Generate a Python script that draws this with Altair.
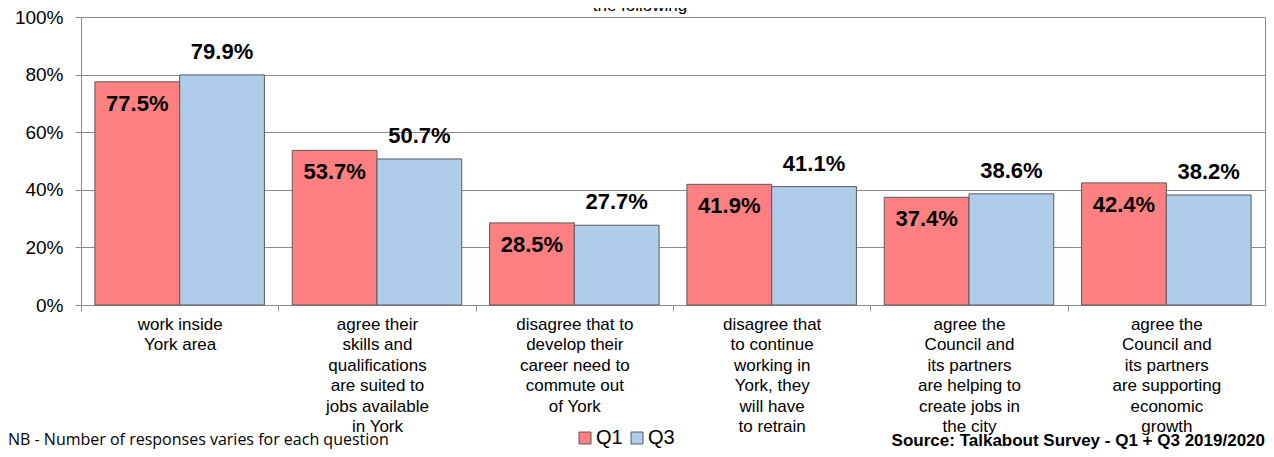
import altair as alt
import pandas as pd

categories = [
    "work inside|York area",
    "agree their|skills and|qualifications|are suited to|jobs available|in York",
    "disagree that to|develop their|career need to|commute out|of York",
    "disagree that|to continue|working in|York, they|will have|to retrain",
    "agree the|Council and|its partners|are helping to|create jobs in|the city",
    "agree the|Council and|its partners|are supporting|economic|growth",
]
q1_values = [77.5, 53.7, 28.5, 41.9, 37.4, 42.4]
q3_values = [79.9, 50.7, 27.7, 41.1, 38.6, 38.2]
series_names = ["Q1", "Q3"]
series_colors = ["#FF8080", "#AFCCEA"]

rows = []
for c, a, b in zip(categories, q1_values, q3_values):
    rows.append({"cat": c, "series": "Q1", "value": a, "label": f"{a:.1f}%"})
    rows.append({"cat": c, "series": "Q3", "value": b, "label": f"{b:.1f}%"})
df = pd.DataFrame(rows)

FONT = "Liberation Sans"
GRID = "#8C8C8C"
W = 1184
H = 288
STEP = W / 6

x_enc = alt.X(
    "cat:N",
    sort=categories,
    scale=alt.Scale(paddingInner=0.141, paddingOuter=0.0705),
    axis=alt.Axis(
        title=None,
        labelExpr="split(datum.label, '|')",
        labelAngle=0,
        labelFont=FONT,
        labelFontSize=17,
        labelLineHeight=20.5,
        labelBaseline="top",
        labelPadding=5,
        labelColor="#000000",
        labelLimit=300,
        tickOffset=-STEP / 2,
        labelOffset=STEP / 2,
        tickSize=6,
        tickColor=GRID,
        domainColor=GRID,
        grid=False,
    ),
)
xo_enc = alt.XOffset("series:N", sort=series_names,
                     scale=alt.Scale(paddingInner=0, paddingOuter=0))
y_enc = alt.Y(
    "value:Q",
    scale=alt.Scale(domain=[0, 100], nice=False),
    axis=alt.Axis(
        title=None,
        values=[0, 20, 40, 60, 80, 100],
        labelExpr="datum.value + '%'",
        labelFont=FONT,
        labelFontSize=19,
        labelColor="#000000",
        labelPadding=12,
        tickSize=6,
        tickColor=GRID,
        domainColor=GRID,
        gridColor=GRID,
        gridWidth=1,
    ),
)

base = alt.Chart(df)

bars = base.mark_bar(stroke="#5A5A5A", strokeWidth=1).encode(
    x=x_enc,
    xOffset=xo_enc,
    y=y_enc,
    color=alt.Color(
        "series:N",
        scale=alt.Scale(domain=series_names, range=series_colors),
        legend=alt.Legend(
            orient="none",
            legendX=494,
            legendY=411,
            direction="horizontal",
            title=None,
            symbolType="square",
            symbolSize=144,
            symbolStrokeColor="#5A5A5A",
            symbolStrokeWidth=1,
            labelFont=FONT,
            labelFontSize=20,
            labelColor="#000000",
            labelOffset=1,
            columnPadding=4,
        ),
    ),
)

lab_q1 = base.transform_filter("datum.series == 'Q1'").mark_text(
    font=FONT, fontSize=22, fontWeight="bold", color="#000000",
    baseline="middle", dy=22,
).encode(x=alt.X("cat:N", sort=categories), xOffset=xo_enc, y="value:Q", text="label:N")

lab_q3 = base.transform_filter("datum.series == 'Q3'").mark_text(
    font=FONT, fontSize=22, fontWeight="bold", color="#000000",
    baseline="middle", dy=-23,
).encode(x=alt.X("cat:N", sort=categories), xOffset=xo_enc, y="value:Q", text="label:N")

notes = pd.DataFrame({"t": ["x"]})
title_txt = alt.Chart(notes).mark_text(
    text="the following", font=FONT, fontSize=17, color="#000000",
    align="center", baseline="alphabetic",
).encode(x=alt.value(559), y=alt.value(-6))

nb_txt = alt.Chart(notes).mark_text(
    text="NB - Number of responses varies for each question", font="Open Sans",
    fontSize=16, color="#000000", align="left", baseline="alphabetic",
).encode(x=alt.value(-73), y=alt.value(428))

src_txt = alt.Chart(notes).mark_text(
    text="Source: Talkabout Survey - Q1 + Q3 2019/2020", font=FONT,
    fontSize=17, fontWeight="bold", color="#000000", align="right", baseline="alphabetic",
).encode(x=alt.value(W), y=alt.value(429))

chart = alt.layer(bars, lab_q1, lab_q3, title_txt, nb_txt, src_txt).properties(
    width=W,
    height=H,
    autosize=alt.AutoSizeParams(type="none"),
    padding={"left": 73, "top": 9, "right": 1, "bottom": 144},
).configure_view(stroke=GRID, strokeWidth=1)

chart.save("out.html", embed_options={"renderer": "svg", "actions": False})
